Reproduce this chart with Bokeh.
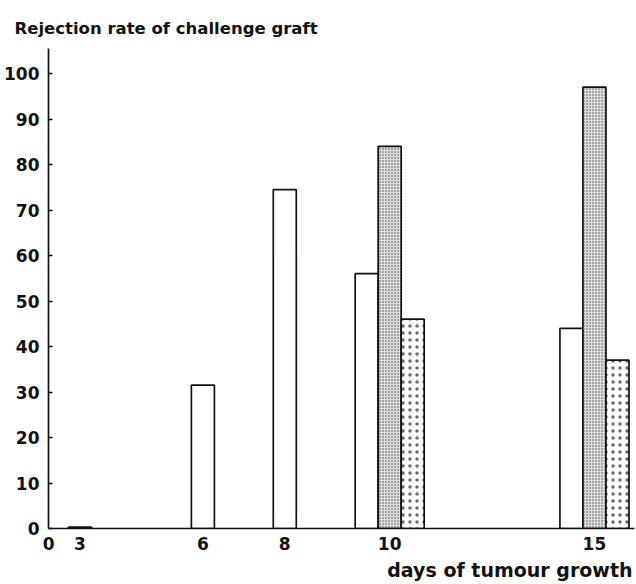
from bokeh.plotting import figure
from bokeh.models import (Range1d, FixedTicker, SingleIntervalTicker, CustomJSTickFormatter,
                          Title, ColumnDataSource)
from bokeh.transform import dodge
from bokeh.embed import file_html
from bokeh.resources import INLINE

# ---- data ----
days = [3, 6, 8, 10, 15]
rate_open = [0.3, 31.5, 74.5, 56, 44]
days_dense = [10, 15]
rate_dense = [84, 97]
days_speckled = [10, 15]
rate_speckled = [46, 37]
x_tick_labels = ["0", "3", "6", "8", "10", "15"]
y_label = "Rejection rate of challenge graft"
x_label = "days of tumour growth"

# ---- styling constants ----
BAR_W = 0.562
X_START, X_END = 2.23, 16.54
INK = "#111111"
FONT = "DejaVu Sans"

p = figure(width=636, height=584, output_backend="svg", toolbar_location=None,
           x_range=Range1d(X_START, X_END), y_range=Range1d(0, 105.5),
           min_border_left=48, min_border_right=2, min_border_top=48,
           min_border_bottom=55, background_fill_color="white",
           border_fill_color="white")
p.outline_line_color = None
p.grid.visible = False

p.title = Title(text=y_label, align="left", offset=-34, standoff=21,
                text_font=FONT, text_font_style="bold", text_font_size="16.5px",
                text_color=INK)

src_open = ColumnDataSource(dict(day=days, rate=rate_open))
src_dense = ColumnDataSource(dict(day=days_dense, rate=rate_dense))
src_speck = ColumnDataSource(dict(day=days_speckled, rate=rate_speckled))

p.vbar(x="day", top="rate", bottom=0, width=BAR_W, source=src_open,
       fill_color="white", line_color=INK, line_width=1.7)
p.vbar(x=dodge("day", BAR_W, range=p.x_range), top="rate", bottom=0, width=BAR_W,
       source=src_dense, fill_color="#dcdcdc", hatch_pattern="dot", hatch_scale=3,
       hatch_color="#555555", hatch_weight=1, line_color=INK, line_width=1.7)
p.vbar(x=dodge("day", 2 * BAR_W, range=p.x_range), top="rate", bottom=0, width=BAR_W,
       source=src_speck, fill_color="white", hatch_pattern="dot", hatch_scale=7,
       hatch_color="#444444", hatch_weight=1, hatch_alpha=0.8,
       line_color=INK, line_width=1.7)

# x axis
x_tick_pos = [X_START + 0.002, 3, 6, 8, 10 + BAR_W, 15 + BAR_W]
p.xaxis.ticker = FixedTicker(ticks=x_tick_pos)
p.xaxis.formatter = CustomJSTickFormatter(args=dict(pos=x_tick_pos, lab=x_tick_labels), code="""
let best = ''; let d = 1e9;
for (let i = 0; i < pos.length; i++) {
  const dd = Math.abs(pos[i] - tick);
  if (dd < d) { d = dd; best = lab[i]; }
}
return best;
""")
p.xaxis.major_tick_in = 0
p.xaxis.major_tick_out = 0
p.xaxis.minor_tick_line_color = None
p.xaxis.major_label_standoff = 8

# y axis
p.yaxis.ticker = SingleIntervalTicker(interval=10)
p.yaxis.major_tick_in = 4
p.yaxis.major_tick_out = 0
p.yaxis.minor_tick_line_color = None
p.yaxis.major_label_standoff = 5

for ax in (p.xaxis, p.yaxis):
    ax.axis_line_color = INK
    ax.axis_line_width = 1.7
    ax.major_tick_line_color = INK
    ax.major_tick_line_width = 1.4
    ax.major_label_text_font = FONT
    ax.major_label_text_font_style = "bold"
    ax.major_label_text_font_size = "17px"
    ax.major_label_text_color = INK

p.add_layout(Title(text=x_label, align="right", offset=2, standoff=8,
                   text_font=FONT, text_font_style="bold", text_font_size="19px",
                   text_color=INK), "below")

open("out.html", "w").write(file_html(p, INLINE))
